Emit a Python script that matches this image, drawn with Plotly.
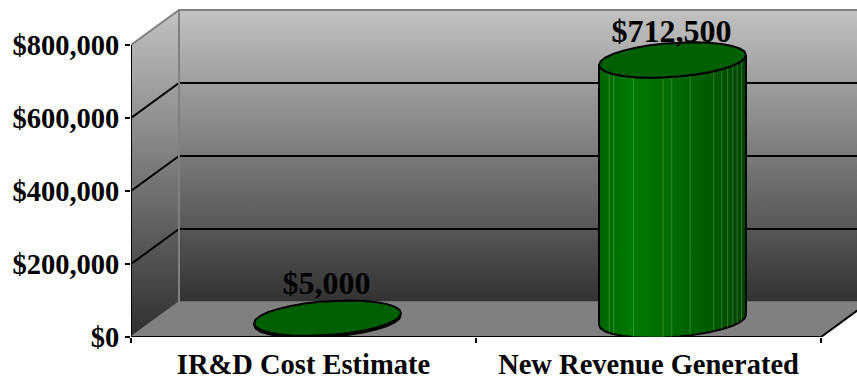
import numpy as np
import plotly.graph_objects as go

# ---- data ----
categories = ["IR&D Cost Estimate", "New Revenue Generated"]
values = [5000, 712500]
value_labels = ["$5,000", "$712,500"]
tick_values = [0, 200000, 400000, 600000, 800000]
tick_labels = ["$0", "$200,000", "$400,000", "$600,000", "$800,000"]

# ---- layout constants (pixels of the 3D projection) ----
W, H = 857, 379
L, B = 131, 42
FRONT_W = 690                   # width of the front floor edge, px
FRONT_H = 292                   # height of the front axis 0..800000, px
PX_X = FRONT_W / 2              # pixels per category
PX_Y = FRONT_H / 800000         # pixels per value unit
DX, DY = 48, 35                 # depth offset of the back wall
SERIF = "Liberation Serif"


def px(cat, val, dx=0.0, dy=0.0):
    """Axis position + pixel offset (dx right, dy up) -> data coordinates."""
    return cat + np.asarray(dx) / PX_X, val + np.asarray(dy) / PX_Y


fig = go.Figure()


def poly(points, **kw):
    xs = [float(p[0]) for p in points]
    ys = [float(p[1]) for p in points]
    fig.add_trace(go.Scatter(x=xs, y=ys, hoverinfo="skip", showlegend=False,
                             cliponaxis=False, **kw))


left, right = -0.5, 1.5
view_right = left + (W - L) / PX_X
view_top = (H - B) / PX_Y
wall_scale = [[0, "rgb(50,50,50)"], [1, "rgb(194,194,194)"]]
top = tick_values[-1]
NOLINE = dict(color="rgba(0,0,0,0)", width=0)

# back wall (runs off the right edge of the picture)
back_right = view_right
poly([px(left, 0, DX, DY), px(back_right, 0, 0, DY), px(back_right, top, 0, DY),
      px(left, top, DX, DY), px(left, 0, DX, DY)],
     mode="lines", fill="toself", line=NOLINE,
     fillgradient=dict(type="vertical", colorscale=wall_scale))
# side wall
poly([px(left, 0), px(left, 0, DX, DY), px(left, top, DX, DY), px(left, top), px(left, 0)],
     mode="lines", fill="toself", line=NOLINE,
     fillgradient=dict(type="vertical", colorscale=[[0, "rgb(46,46,46)"], [1, "rgb(194,194,194)"]]))
# floor
floor_end = right + DX / PX_X
poly([px(left, 0), px(left, 0, DX, DY), px(floor_end, 0, 0, DY), px(right, 0), px(left, 0)],
     mode="lines", fill="toself", fillcolor="rgb(128,128,128)", line=NOLINE)
# grid lines
for tv in tick_values[1:-1]:
    poly([px(left, tv), px(left, tv, DX, DY), px(back_right, tv, 0, DY)],
         mode="lines", line=dict(color="black", width=2))
# wall edges
GREY = "rgb(128,128,128)"
poly([px(left, top), px(left, top, DX, DY), px(back_right, top, 0, DY)],
     mode="lines", line=dict(color=GREY, width=2))
poly([px(left, 0, DX, DY), px(left, top, DX, DY)], mode="lines", line=dict(color=GREY, width=2))
poly([px(left, 0), px(left, 0, DX, DY), px(back_right, 0, 0, DY)],
     mode="lines", line=dict(color=GREY, width=1.5))
poly([px(right, 0), px(floor_end, 0, 0, DY)], mode="lines", line=dict(color="black", width=2))

# front axis lines
poly([px(left, 0), px(left, top)], mode="lines", line=dict(color="black", width=2))
poly([px(left, 0), px(right, 0)], mode="lines", line=dict(color="black", width=2))

# cylinders
RX, TILT, RY = 73.5, 5.0, 17.0
CDX, CDY = DX / 2, DY / 2 - 0.5
label_lift = [16, 10]


def ring(t):
    return RX * np.cos(t) + CDX, TILT * np.cos(t) + RY * np.sin(t) + CDY


facet_fractions = [-0.86, -0.80, -0.53, -0.13, -0.01, 0.24, 0.56, 0.67, 0.75, 0.82, 0.88, 0.94]
body_scale = [[0, "rgb(0,100,0)"], [0.22, "rgb(0,122,0)"], [0.5, "rgb(0,106,0)"],
              [0.8, "rgb(0,88,0)"], [1, "rgb(0,66,0)"]]

for i, v in enumerate(values):
    front = np.linspace(0, -np.pi, 16)
    dxb, dyb = ring(front[::-1])          # front arc, left to right, at the base
    dxt, dyt = ring(front)                # back along the top
    xb, yb = px(i, 0, dxb, dyb)
    xt, yt = px(i, v, dxt, dyt)
    ax = list(xb) + list(xt)
    ay = list(yb) + list(yt)
    poly(list(zip(ax + [ax[0]], ay + [ay[0]])), mode="lines", fill="toself",
         line=dict(color="black", width=2),
         fillgradient=dict(type="horizontal", colorscale=body_scale))
    if v > 50000:
        for f in facet_fractions:
            t = -np.arccos(f)
            dx, dy = ring(t)
            a = px(i, 0, dx, dy)
            b = px(i, v, dx, dy)
            poly([a, b], mode="lines", line=dict(color="rgba(170,220,170,0.3)", width=1))
    # top ellipse
    t = np.linspace(0, 2 * np.pi, 31)
    dx, dy = ring(t)
    xe, ye = px(i, v, dx, dy)
    poly(list(zip(xe, ye)), mode="lines", fill="toself", fillcolor="rgb(0,96,0)",
         line=dict(color="black", width=2))
    # value label
    lx, ly = px(i, v, CDX - 1, CDY + label_lift[i])
    fig.add_trace(go.Scatter(x=[float(lx)], y=[float(ly)], mode="text", text=[value_labels[i]],
                             textposition="top center", cliponaxis=False, hoverinfo="skip",
                             showlegend=False,
                             textfont=dict(family=SERIF, size=32, color="black", weight="bold")))

fig.update_layout(
    width=W, height=H, autosize=False, showlegend=False,
    margin=dict(l=L, r=0, t=0, b=B, pad=0),
    paper_bgcolor="white", plot_bgcolor="rgba(0,0,0,0)",
    xaxis=dict(type="linear", range=[left, view_right], tickmode="array",
               tickvals=[0, 1], ticktext=categories, ticks="", showgrid=False,
               automargin=False, zeroline=False, showline=False, ticklabelstandoff=7,
               minor=dict(tickmode="array", tickvals=[left, 0.5, right], ticks="outside",
                          ticklen=5, tickwidth=2, tickcolor="black", showgrid=False),
               tickfont=dict(family=SERIF, size=28.5, color="black", weight="bold")),
    yaxis=dict(range=[0, view_top], tickmode="array", tickvals=tick_values, ticktext=tick_labels,
               ticks="outside", ticklen=5, tickwidth=2, tickcolor="black", showgrid=False,
               automargin=False, zeroline=False, showline=False,
               tickfont=dict(family=SERIF, size=28.5, color="black", weight="bold")),
)
fig.write_html("out.html", config={"displayModeBar": False},
               post_script="document.body.style.margin='0';")
